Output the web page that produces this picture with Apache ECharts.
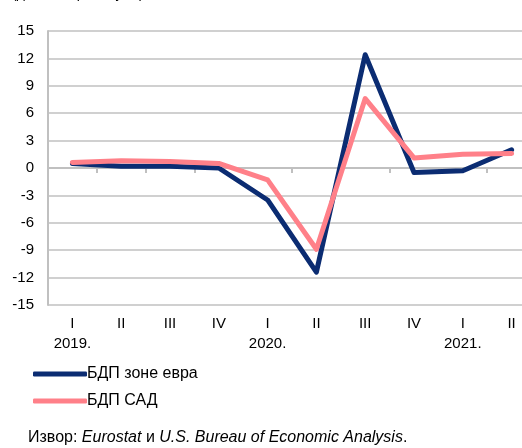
<!DOCTYPE html>
<html>
<head>
<meta charset="utf-8">
<script src="https://cdn.jsdelivr.net/npm/echarts@6/dist/echarts.min.js"></script>
<style>
html,body{margin:0;padding:0;background:#fff;overflow:hidden;width:522px;height:448px;}
#c{width:540px;height:448px;}
</style>
</head>
<body>
<div id="c"></div>
<script>
var quarters = ['I','II','III','IV','I','II','III','IV','I','II'];
var years = ['2019.','','','','2020.','','','','2021.',''];
var euroGDP = [0.5, 0.2, 0.2, 0.0, -3.5, -11.4, 12.4, -0.5, -0.3, 2.0];
var usGDP = [0.6, 0.8, 0.7, 0.5, -1.3, -8.9, 7.6, 1.1, 1.5, 1.6];
var yTicks = [15, 12, 9, 6, 3, 0, -3, -6, -9, -12, -15];
var seriesNames = ['БДП зоне евра', 'БДП САД'];

var FONT = '"Liberation Sans", Arial, sans-serif';
var chart = echarts.init(document.getElementById('c'), null, {renderer: 'canvas'});
var cats = quarters.map(function(q, i){ return i + ''; });

chart.setOption({
  animation: false,
  backgroundColor: '#fff',
  textStyle: {fontFamily: FONT},
  grid: {left: 48, top: 31, width: 488, height: 274, containLabel: false},
  xAxis: {
    type: 'category',
    data: cats,
    boundaryGap: true,
    axisLine: {show: true, lineStyle: {color: '#c0c0c0', width: 2}},
    axisTick: {show: true, interval: 0, length: 5, lineStyle: {color: '#c0c0c0', width: 2}},
    axisLabel: {
      interval: 0, margin: 9, color: '#000', fontSize: 15, lineHeight: 20, fontFamily: FONT,
      formatter: function(v){ var i = +v; return years[i] ? quarters[i] + '\n' + years[i] : quarters[i]; }
    },
    splitLine: {show: false}
  },
  yAxis: {
    type: 'value',
    min: yTicks[yTicks.length - 1], max: yTicks[0], interval: 3,
    axisLine: {show: true, lineStyle: {color: '#c0c0c0', width: 2}},
    axisTick: {show: false},
    axisLabel: {color: '#000', fontSize: 15, margin: 14, fontFamily: FONT},
    splitLine: {show: true, lineStyle: {color: '#c0c0c0', width: 1.5}}
  },
  legend: {
    show: true,
    orient: 'vertical',
    left: 28, top: 361,
    itemWidth: 54, itemHeight: 5, itemGap: 11,
    icon: 'roundRect',
    textStyle: {color: '#000', fontSize: 16, fontFamily: FONT, padding: [0,0,0,-5]},
    data: seriesNames
  },
  series: [
    {
      name: seriesNames[0], type: 'line', data: euroGDP,
      showSymbol: false, symbol: 'none',
      itemStyle: {color: '#0b2c72'},
      lineStyle: {color: '#0b2c72', width: 5, cap: 'round', join: 'round'}
    },
    {
      name: seriesNames[1], type: 'line', data: usGDP,
      showSymbol: false, symbol: 'none',
      itemStyle: {color: '#ff8089'},
      lineStyle: {color: '#ff8089', width: 5, cap: 'round', join: 'round'}
    }
  ],
  graphic: [
    {
      type: 'text', left: 12, top: -13,
      style: {text: '(десезонирано, у %)', fontSize: 14, fontFamily: FONT, fill: '#000'}
    },
    {
      type: 'text', left: 28, top: 430,
      style: {
        text: '{n|Извор: }{i|Eurostat}{n| и }{i|U.S. Bureau of Economic Analysis}{n|.}',
        fontFamily: FONT, fontSize: 16, fill: '#000',
        rich: {
          n: {fontSize: 16, fontFamily: FONT, fill: '#000'},
          i: {fontSize: 16, fontFamily: FONT, fontStyle: 'italic', fill: '#000'}
        }
      }
    }
  ]
});
</script>
</body>
</html>
